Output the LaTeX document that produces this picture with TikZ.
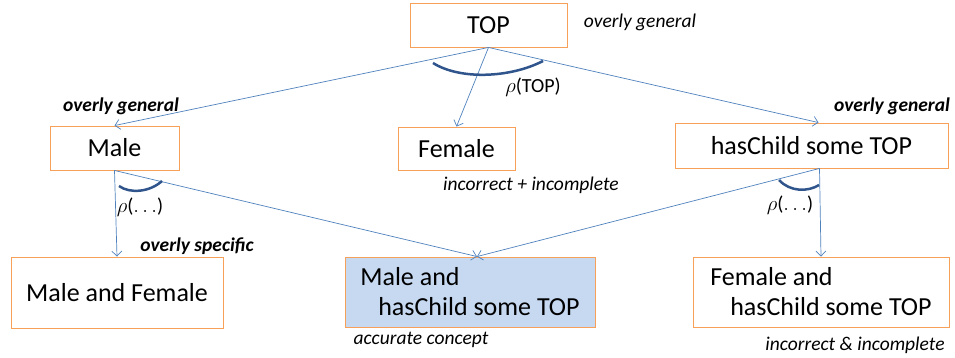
\documentclass[tikz,border=0pt]{standalone}
\usepackage{fontspec}
\setmainfont{Carlito}
\usetikzlibrary{arrows.meta}
\definecolor{boxorange}{RGB}{247,160,90}
\definecolor{linkblue}{RGB}{79,129,189}
\definecolor{arcblue}{RGB}{47,85,140}
\definecolor{fillblue}{RGB}{198,217,241}
\begin{document}
\begin{tikzpicture}[
    x=1pt, y=-1pt,
    concept/.style={draw=boxorange, line width=0.9pt, inner sep=0pt, font=\fontsize{26}{30}\selectfont},
    link/.style={draw=linkblue, line width=0.7pt, -{Straight Barb[length=5pt,width=10pt]}},
    refine/.style={draw=arcblue, line width=2.5pt},
    verdict/.style={font=\fontsize{19.5}{22}\selectfont\itshape},
    strong/.style={font=\fontsize{19.5}{22}\selectfont\bfseries\itshape},
    rholabel/.style={font=\fontsize{20}{22}\selectfont}
]
    \useasboundingbox (0,0) rectangle (955,358);

    % Concepts of the refinement tree
    \node[concept, minimum width=157pt, minimum height=44pt] (top) at (488.5,25) {TOP};
    \node[concept, minimum width=129pt, minimum height=44pt] (male) at (114.5,148) {Male};
    \node[concept, minimum width=117pt, minimum height=43pt] (female) at (456.5,148.5) {Female};
    \node[concept, minimum width=273pt, minimum height=45pt] (haschild) at (811.5,145.5) {hasChild some TOP};
    \node[concept, minimum width=212pt, minimum height=71pt] (malefemale) at (117,292.5) {Male and Female};
    \node[concept, fill=fillblue, minimum width=250pt, minimum height=70pt, align=left] (accurate) at (470,292)
        {Male and\\\hspace{18pt}hasChild some TOP};
    \node[concept, minimum width=256pt, minimum height=70pt, align=left] (femalechild) at (821,292)
        {Female and\\\hspace{20pt}hasChild some TOP};

    % Refinement steps
    \draw[link] (top.south) -- (male.north);
    \draw[link] (top.south) -- (female.north);
    \draw[link] (top.south) -- ([xshift=7pt]haschild.north);
    \draw[link] (male.south) -- (malefemale.north);
    \draw[link] (male.south) -- ([xshift=7pt]accurate.north);
    \draw[link] ([xshift=8pt]haschild.south) -- ([xshift=7pt]accurate.north);
    \draw[link] ([xshift=8pt]haschild.south) -- (femalechild.north);

    % Arcs grouping the refinements
    \draw[refine] (433,63) .. controls (460,80) and (510,78) .. (543,61);
    \draw[refine] (119,186) .. controls (130,194) and (150,192) .. (162,181);
    \draw[refine] (779,180) .. controls (790,192) and (808,192) .. (819,185);
    \node[rholabel] (rhotop) at (533,87) {$\rho$(TOP)};
    \node[rholabel] (rhomale) at (140,207) {$\rho$($\ldots$)};
    \node[rholabel] (rhochild) at (790,205) {$\rho$($\ldots$)};

    % Verdicts on the concepts
    \node[verdict] (vtop) at (640,22) {overly general};
    \node[strong] (vmale) at (121,106) {overly general};
    \node[strong] (vchild) at (892,106) {overly general};
    \node[verdict] (vfemale) at (531,185) {incorrect + incomplete};
    \node[strong] (vmf) at (197,246) {overly specific};
    \node[verdict] (vacc) at (421,340) {accurate concept};
    \node[verdict] (vfc) at (855,345) {incorrect \& incomplete};
\end{tikzpicture}
\end{document}
